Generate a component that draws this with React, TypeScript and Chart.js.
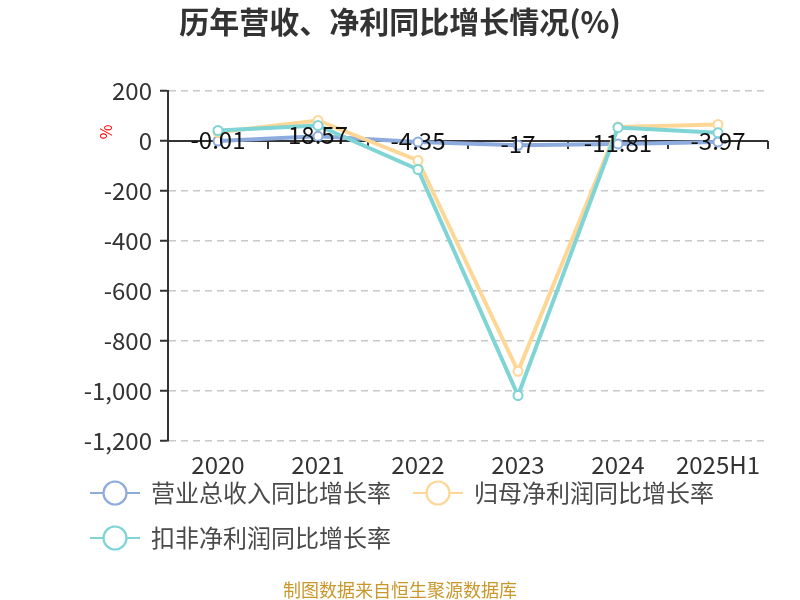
import React, { useEffect, useRef } from "react";
import { Chart, registerables } from "chart.js";

Chart.register(...registerables);

const categories = ["2020", "2021", "2022", "2023", "2024", "2025H1"];
const revenueGrowth = [-0.01, 18.57, -4.35, -17, -11.81, -3.97];
const netProfitGrowth = [35, 82, -78, -921, 56, 66];
const deductedProfitGrowth = [42, 62, -114, -1018, 54, 33];
const revenueLabels = ["-0.01", "18.57", "-4.35", "-17", "-11.81", "-3.97"];
const seriesNames = ["营业总收入同比增长率", "归母净利润同比增长率", "扣非净利润同比增长率"];
const seriesColors = ["#8EABDE", "#FED796", "#7FD4D6"];
const yMin = -1200;
const yMax = 200;
const yStep = 200;
const titleText = "历年营收、净利同比增长情况(%)";
const footerText = "制图数据来自恒生聚源数据库";
const unitText = "%";

const FONT = '"Noto Sans CJK SC", "Noto Sans", sans-serif';

const overlayPlugin = {
  id: "overlay",
  beforeDatasetsDraw(chart: any) {
    const { ctx, chartArea, scales } = chart;
    const x = scales.x;
    const y = scales.y;
    const y0 = y.getPixelForValue(0);
    ctx.save();
    ctx.strokeStyle = "#333333";
    ctx.lineWidth = 2;
    ctx.beginPath();
    ctx.moveTo(chartArea.left, y0);
    ctx.lineTo(chartArea.right, y0);
    ctx.stroke();
    const n = categories.length;
    const w = (chartArea.right - chartArea.left) / n;
    ctx.lineWidth = 2;
    for (let i = 0; i <= n; i++) {
      const px = Math.round(x.getPixelForValue(0) - w / 2 + i * w);
      ctx.beginPath();
      ctx.moveTo(px, y0);
      ctx.lineTo(px, y0 + 8);
      ctx.stroke();
    }
    ctx.restore();
  },
  afterDatasetsDraw(chart: any) {
    const { ctx } = chart;
    const meta = chart.getDatasetMeta(0);
    ctx.save();
    ctx.font = `24px ${FONT}`;
    ctx.fillStyle = "#111111";
    ctx.textAlign = "center";
    ctx.textBaseline = "middle";
    meta.data.forEach((pt: any, i: number) => {
      ctx.fillText(revenueLabels[i], pt.x, pt.y - 1);
    });
    ctx.restore();
  },
  afterDraw(chart: any) {
    const { ctx, width } = chart;
    ctx.save();
    // title
    ctx.font = `bold 30px ${FONT}`;
    ctx.fillStyle = "#333333";
    ctx.textAlign = "center";
    ctx.textBaseline = "middle";
    ctx.fillText(titleText, width / 2, 22);
    // unit
    ctx.save();
    ctx.translate(106, 132);
    ctx.rotate(-Math.PI / 2);
    ctx.font = `16px ${FONT}`;
    ctx.fillStyle = "#FF0000";
    ctx.fillText(unitText, 0, 0);
    ctx.restore();
    // legend
    ctx.font = `24px ${FONT}`;
    ctx.textAlign = "left";
    ctx.textBaseline = "middle";
    const startX = 90;
    const rowY = [493, 538];
    const maxX = 760;
    let cx = startX;
    let row = 0;
    seriesNames.forEach((name, i) => {
      const tw = ctx.measureText(name).width;
      const itemW = 61 + tw;
      if (cx + itemW > maxX && cx !== startX) {
        row += 1;
        cx = startX;
      }
      const cy = rowY[row];
      ctx.strokeStyle = seriesColors[i];
      ctx.lineWidth = 2.2;
      ctx.beginPath();
      ctx.moveTo(cx, cy);
      ctx.lineTo(cx + 50, cy);
      ctx.stroke();
      ctx.beginPath();
      ctx.arc(cx + 25, cy, 11.5, 0, Math.PI * 2);
      ctx.fillStyle = "#ffffff";
      ctx.fill();
      ctx.stroke();
      ctx.fillStyle = "#4a4a4a";
      ctx.fillText(name, cx + 61, cy);
      cx += itemW + 22;
    });
    // footer
    ctx.font = `18px ${FONT}`;
    ctx.fillStyle = "#C9972A";
    ctx.textAlign = "center";
    ctx.fillText(footerText, width / 2, 590);
    ctx.restore();
  },
};

export default function App() {
  const canvasRef = useRef<HTMLCanvasElement | null>(null);

  useEffect(() => {
    if (!canvasRef.current) return;
    const makeDataset = (label: string, data: number[], color: string, order: number) => ({
      label,
      data,
      borderColor: color,
      backgroundColor: "#ffffff",
      pointBackgroundColor: "#ffffff",
      pointBorderColor: color,
      pointRadius: 4.5,
      pointBorderWidth: 2,
      borderWidth: 4,
      tension: 0,
      order,
    });
    const chart = new Chart(canvasRef.current, {
      type: "line",
      data: {
        labels: categories,
        datasets: [
          makeDataset(seriesNames[0], revenueGrowth, seriesColors[0], 3),
          makeDataset(seriesNames[1], netProfitGrowth, seriesColors[1], 2),
          makeDataset(seriesNames[2], deductedProfitGrowth, seriesColors[2], 1),
        ],
      },
      options: {
        animation: false,
        responsive: false,
        maintainAspectRatio: false,
        layout: { padding: { left: 0, right: 32, top: 91, bottom: 119 } },
        plugins: {
          legend: { display: false },
          title: { display: false },
          tooltip: { enabled: false },
        },
        scales: {
          x: {
            type: "category",
            offset: true,
            grid: { display: false, drawTicks: false },
            border: { display: false },
            ticks: {
              padding: 9,
              color: "#333333",
              font: { family: FONT, size: 24 },
              maxRotation: 0,
              autoSkip: false,
            },
            afterFit: (scale: any) => {
              scale.height = 40;
            },
          },
          y: {
            min: yMin,
            max: yMax,
            ticks: {
              stepSize: yStep,
              color: "#333333",
              padding: 8,
              font: { family: FONT, size: 24 },
            },
            grid: {
              color: "#C8C8C8",
              lineWidth: 1.5,
              tickColor: "#333333",
              tickLength: 8,
              tickWidth: 2,
              tickBorderDash: [],
            },
            border: { display: true, color: "#333333", width: 2, dash: [7, 5] },
            afterFit: (scale: any) => {
              scale.width = 168;
            },
          },
        },
      },
      plugins: [overlayPlugin],
    });
    return () => chart.destroy();
  }, []);

  return (
    <div style={{ position: "absolute", left: 0, top: 0, width: 800, height: 600 }}>
      <canvas ref={canvasRef} width={800} height={600} style={{ width: 800, height: 600 }} />
    </div>
  );
}
